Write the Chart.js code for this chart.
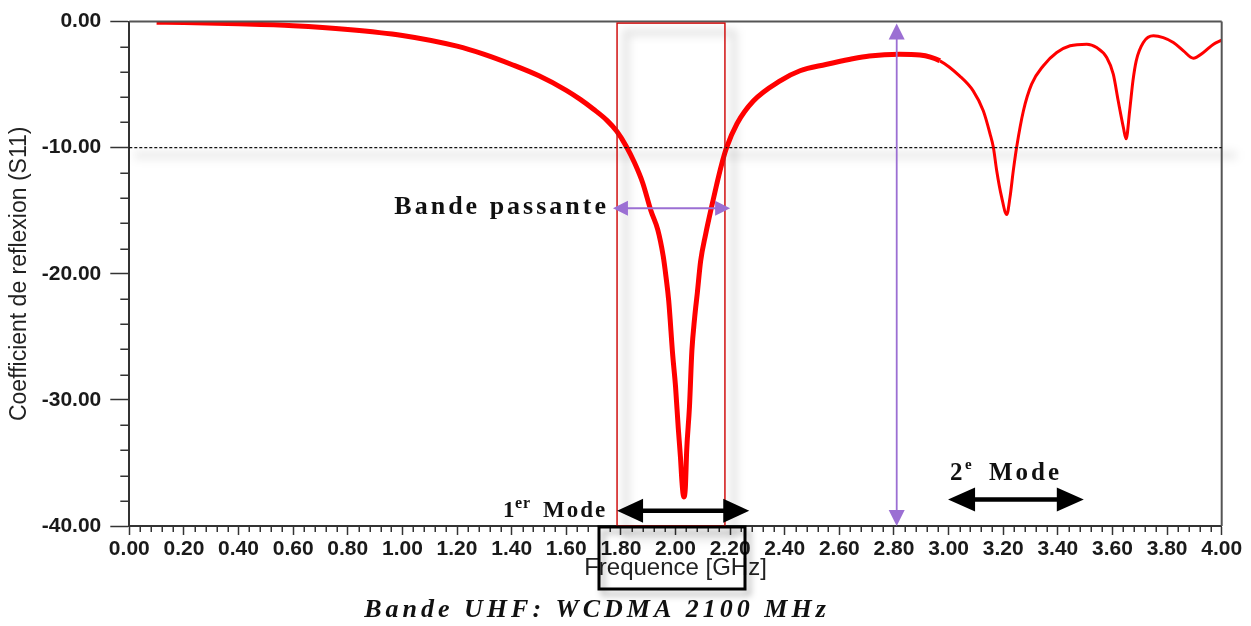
<!DOCTYPE html>
<html><head><meta charset="utf-8">
<script src="https://cdn.jsdelivr.net/npm/chart.js@4.4.1/dist/chart.umd.min.js"></script>
<style>html,body{margin:0;padding:0;background:#fff}canvas{display:block}</style>
</head><body>
<canvas id="c" width="1251" height="626"></canvas>
<script>
// ---- data ----
const freqGHz = [0.10,0.20,0.40,0.60,0.80,1.00,1.20,1.30,1.40,1.50,1.60,1.65,1.70,1.75,1.785,1.82,1.85,1.88,1.91,1.935,1.955,1.965,1.975,1.99,2.00,2.01,2.018,2.024,2.030,2.036,2.041,2.051,2.060,2.070,2.080,2.092,2.110,2.133,2.151,2.168,2.187,2.225,2.285,2.383,2.456,2.55,2.64,2.71,2.82,2.895,2.968,3.04,3.09,3.127,3.152,3.164,3.176,3.194,3.213,3.225,3.237,3.249,3.274,3.304,3.347,3.396,3.445,3.506,3.542,3.579,3.603,3.621,3.64,3.65,3.663,3.675,3.687,3.713,3.75,3.786,3.823,3.86,3.896,3.933,3.97,4.0];
const s11dB = [-0.05,-0.08,-0.18,-0.33,-0.62,-1.1,-1.95,-2.6,-3.4,-4.3,-5.45,-6.15,-6.95,-7.85,-8.7,-9.9,-11.2,-12.8,-15.0,-16.5,-18.6,-20.2,-22.1,-26.5,-28.9,-32.2,-34.5,-36.6,-37.7,-37.0,-34.0,-30.6,-26.1,-23.5,-21.5,-19.0,-16.9,-14.6,-12.9,-11.4,-10.0,-8.1,-6.3,-4.7,-3.9,-3.4,-2.98,-2.72,-2.58,-2.64,-3.11,-4.3,-5.49,-7.07,-8.92,-9.98,-11.8,-13.9,-15.3,-13.9,-11.8,-9.98,-7.07,-4.96,-3.5,-2.45,-1.92,-1.79,-2.06,-2.85,-4.17,-6.28,-8.4,-9.3,-7.07,-4.7,-3.11,-1.66,-1.13,-1.27,-1.66,-2.32,-2.9,-2.45,-1.79,-1.47];
const xTicks = [0.00,0.20,0.40,0.60,0.80,1.00,1.20,1.40,1.60,1.80,2.00,2.20,2.40,2.60,2.80,3.00,3.20,3.40,3.60,3.80,4.00];
const yTicks = [0,-10,-20,-30,-40];
const thresholdDB = -10;
const bandEdges = [1.786, 2.181];
const bandArrow = [1.771, 2.200];
const bandArrowDB = -14.8;
const markerFreq = 2.81;
const mode1Arrow = [1.786, 2.270];
const mode1DB = -38.8;
const mode2Arrow = [2.998, 3.495];
const mode2DB = -37.9;

const pts = freqGHz.map((f,i)=>({x:f,y:s11dB[i]}));

function line(ctx,x1,y1,x2,y2){ctx.beginPath();ctx.moveTo(x1,y1);ctx.lineTo(x2,y2);ctx.stroke();}
function dblArrow(ctx,x1,y1,x2,y2,hl,hw,lw,col){
  const a=Math.atan2(y2-y1,x2-x1);
  ctx.save();ctx.strokeStyle=col;ctx.fillStyle=col;ctx.lineWidth=lw;
  const cx=Math.cos(a),sx=Math.sin(a);
  line(ctx,x1+cx*hl*0.8,y1+sx*hl*0.8,x2-cx*hl*0.8,y2-sx*hl*0.8);
  function head(px,py,dir){
    const dx=Math.cos(dir),dy=Math.sin(dir);
    ctx.beginPath();ctx.moveTo(px,py);
    ctx.lineTo(px-dx*hl-dy*hw/2,py-dy*hl+dx*hw/2);
    ctx.lineTo(px-dx*hl+dy*hw/2,py-dy*hl-dx*hw/2);
    ctx.closePath();ctx.fill();
  }
  head(x2,y2,a);head(x1,y1,a+Math.PI);
  ctx.restore();
}

const decor = {
  id:'decor',
  beforeDatasetsDraw(chart){
    const ctx=chart.ctx, xs=chart.scales.x, ys=chart.scales.y, ca=chart.chartArea;
    ctx.save();
    ctx.filter='blur(4px)';
    ctx.fillStyle='rgba(0,0,0,0.07)';
    const yT=ys.getPixelForValue(thresholdDB);
    ctx.fillRect(ca.left+5,yT+3,ca.right-ca.left+10,9);
    ctx.strokeStyle='rgba(0,0,0,0.12)';ctx.lineWidth=6;
    const bx1=xs.getPixelForValue(bandEdges[0]), bx2=xs.getPixelForValue(bandEdges[1]);
    ctx.strokeRect(bx1+9,ca.top+11,bx2-bx1,ca.bottom-ca.top);
    ctx.restore();
  },
  afterDraw(chart){
    const ctx=chart.ctx, xs=chart.scales.x, ys=chart.scales.y, ca=chart.chartArea;
    ctx.save();
    ctx.strokeStyle='#555';ctx.lineWidth=2;
    line(ctx,ca.left,ca.top,ca.right,ca.top);
    line(ctx,ca.right,ca.top,ca.right,ca.bottom);
    ctx.strokeStyle='#333';ctx.lineWidth=1.5;
    for(let i=0;i<=100;i++){ if(i%5===0) continue; const px=Math.round(xs.getPixelForValue(i*0.04))+0.25; line(ctx,px,ca.bottom,px,ca.bottom+6);}
    for(let i=0;i<=20;i++){ if(i%5===0) continue; const py=Math.round(ys.getPixelForValue(-i*2))+0.25; line(ctx,ca.left-9,py,ca.left,py);}
    const yT=ys.getPixelForValue(thresholdDB);
    ctx.strokeStyle='#111';ctx.lineWidth=1.3;ctx.setLineDash([3,2]);
    line(ctx,ca.left,yT,ca.right,yT);ctx.setLineDash([]);
    const bx1=xs.getPixelForValue(bandEdges[0]), bx2=xs.getPixelForValue(bandEdges[1]);
    ctx.strokeStyle='#d01010';ctx.lineWidth=1.5;
    ctx.strokeRect(bx1,ca.top+1.5,bx2-bx1,ca.bottom-ca.top-1.5);
    const purple='#9b6fd3';
    dblArrow(ctx,xs.getPixelForValue(bandArrow[0]),ys.getPixelForValue(bandArrowDB),xs.getPixelForValue(bandArrow[1]),ys.getPixelForValue(bandArrowDB),15,15,2,purple);
    const mx=xs.getPixelForValue(markerFreq);
    dblArrow(ctx,mx,ca.top+2,mx,ca.bottom,16,16,1.8,purple);
    dblArrow(ctx,xs.getPixelForValue(mode1Arrow[0]),ys.getPixelForValue(mode1DB),xs.getPixelForValue(mode1Arrow[1]),ys.getPixelForValue(mode1DB),26,24,4.5,'#000');
    dblArrow(ctx,xs.getPixelForValue(mode2Arrow[0]),ys.getPixelForValue(mode2DB),xs.getPixelForValue(mode2Arrow[1]),ys.getPixelForValue(mode2DB),27,24,4.5,'#000');
    ctx.save();ctx.filter='blur(3px)';ctx.strokeStyle='rgba(0,0,0,0.25)';ctx.lineWidth=4;
    ctx.strokeRect(603,532,146,62);ctx.restore();
    ctx.strokeStyle='#000';ctx.lineWidth=3;ctx.strokeRect(599,527,146,62);
    ctx.fillStyle='#111';ctx.textBaseline='alphabetic';
    ctx.font='bold 26px "Liberation Serif"';ctx.letterSpacing='3px';ctx.textAlign='right';
    ctx.fillText('Bande passante',609,214);
    ctx.textAlign='left';
    ctx.font='bold 23px "Liberation Serif"';ctx.letterSpacing='1px';
    ctx.fillText('1',503,517);
    ctx.font='bold 16px "Liberation Serif"';ctx.fillText('er',515,508);
    ctx.font='bold 23px "Liberation Serif"';ctx.letterSpacing='2px';ctx.fillText('Mode',543,517);
    ctx.font='bold 25px "Liberation Serif"';ctx.letterSpacing='3px';
    ctx.fillText('2',950,480);
    ctx.font='bold 15px "Liberation Serif"';ctx.letterSpacing='0px';ctx.fillText('e',965,469);
    ctx.font='bold 25px "Liberation Serif"';ctx.letterSpacing='3px';ctx.fillText('Mode',989,480);
    ctx.font='italic bold 26px "Liberation Serif"';ctx.letterSpacing='4px';ctx.textAlign='center';
    ctx.fillText('Bande UHF: WCDMA 2100 MHz',597,617);
    ctx.restore();
  }
};

new Chart(document.getElementById('c'),{
  type:'line',
  data:{datasets:[{data:pts,borderColor:'#ff0000',borderWidth:5,pointRadius:0,cubicInterpolationMode:'monotone',
    segment:{borderWidth:c=>c.p0.parsed.x>=2.93?3:5}}]},
  options:{
    responsive:false,animation:false,devicePixelRatio:1,
    layout:{padding:{top:20.7,right:29.3,bottom:0,left:0}},
    plugins:{legend:{display:false},tooltip:{enabled:false}},
    scales:{
      x:{type:'linear',min:0,max:4,
        afterBuildTicks:s=>{s.ticks=xTicks.map(v=>({value:v}));},
        afterFit:s=>{s.height=100;},
        ticks:{callback:v=>Number(v).toFixed(2),font:{family:'Liberation Sans',size:21,weight:'bold'},color:'#1a1a1a',maxRotation:0,minRotation:0,autoSkip:false,padding:2},
        grid:{drawOnChartArea:false,drawTicks:true,tickLength:9,tickWidth:1.5,tickColor:'#333'},
        border:{color:'#333',width:2},
        title:{display:true,text:'Frequence [GHz]',font:{family:'Liberation Sans',size:24},color:'#222',padding:{top:0,bottom:43}}
      },
      y:{min:-40,max:0,
        afterBuildTicks:s=>{s.ticks=yTicks.map(v=>({value:v}));},
        afterFit:s=>{s.width=129.3;},
        ticks:{callback:v=>Number(v).toFixed(2),font:{family:'Liberation Sans',size:21,weight:'bold'},color:'#1a1a1a',padding:9},
        grid:{drawOnChartArea:false,drawTicks:true,tickLength:19,tickWidth:1.5,tickColor:'#333'},
        border:{color:'#333',width:2},
        title:{display:true,text:'Coefficient de reflexion (S11)',font:{family:'Liberation Sans',size:23},color:'#222',padding:{top:6,bottom:0}}
      }
    }
  },
  plugins:[decor]
});
</script>
</body></html>
